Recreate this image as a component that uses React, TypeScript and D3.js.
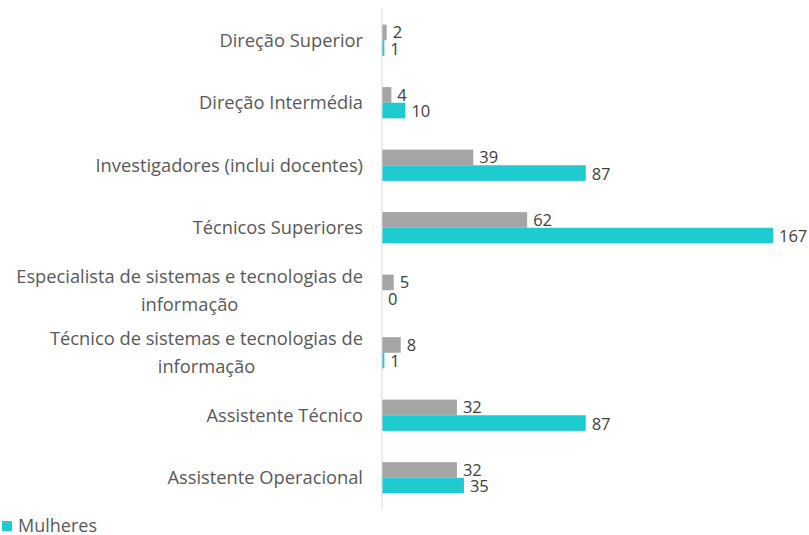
import React, {useEffect, useRef} from 'react';
import * as d3 from 'd3';

// categorias (linhas separadas por \n como no gráfico original)
const categories = [
    'Direção Superior',
    'Direção Intermédia',
    'Investigadores (inclui docentes)',
    'Técnicos Superiores',
    'Especialista de sistemas e tecnologias de\ninformação',
    'Técnico de sistemas e tecnologias de\ninformação',
    'Assistente Técnico',
    'Assistente Operacional',
];
const homens = [2, 4, 39, 62, 5, 8, 32, 32];
const mulheres = [1, 10, 87, 167, 0, 1, 87, 35];
const seriesNames = ['Homens', 'Mulheres'];
const colors = ['#A5A5A5', '#1ECBD1'];

const FONT = '"Open Sans", Lato, sans-serif';

export default function App() {
    const ref = useRef<SVGSVGElement>(null);
    const width = 809, height = 535;

    useEffect(() => {
        const svg = d3.select(ref.current);
        svg.selectAll('*').remove();

        const axisX = 382;
        const y = d3.scaleBand<string>()
            .domain(categories)
            .range([9, 509])
            .paddingInner(0.5)
            .paddingOuter(0.25);
        const sub = d3.scaleBand<string>()
            .domain(seriesNames)
            .range([0, y.bandwidth()]);
        const x = d3.scaleLinear().domain([0, 167]).range([axisX, 773]);

        const data = categories.map((c, i) => ({c, vals: [homens[i], mulheres[i]]}));

        const g = svg.append('g');
        data.forEach((d) => {
            d.vals.forEach((v, j) => {
                const yy = y(d.c)! + sub(seriesNames[j])!;
                g.append('rect')
                    .attr('x', x(0))
                    .attr('y', yy)
                    .attr('width', x(v) - x(0))
                    .attr('height', sub.bandwidth())
                    .attr('fill', colors[j]);
                g.append('text')
                    .attr('x', x(v) + 6)
                    .attr('y', yy + sub.bandwidth() / 2 + (j === 0 ? 0 : 1))
                    .attr('dy', '0.35em')
                    .attr('font-family', FONT)
                    .attr('font-size', 16.5)
                    .attr('fill', '#404040')
                    .text(v);
            });
        });

        // linha do eixo
        svg.append('line')
            .attr('x1', axisX).attr('x2', axisX)
            .attr('y1', 9).attr('y2', 509)
            .attr('stroke', '#D9D9D9')
            .attr('stroke-width', 1);

        // rótulos das categorias
        const lh = 28;
        categories.forEach((c) => {
            const lines = c.split('\n');
            const cy = y(c)! + y.bandwidth() / 2;
            const t = svg.append('text')
                .attr('font-family', FONT)
                .attr('font-size', 18.3)
                .attr('fill', '#595959');
            const tspans = lines.map((l, k) => t.append('tspan')
                .attr('y', cy + (k - (lines.length - 1) / 2) * lh)
                .attr('dy', '0.35em')
                .text(l));
            const widths = tspans.map((s) => (s.node() as SVGTSpanElement).getComputedTextLength());
            const maxW = d3.max(widths)!;
            const right = 363;
            tspans.forEach((s) => s.attr('x', right - maxW / 2).attr('text-anchor', 'middle'));
        });

        // legenda (só a parte visível)
        const lg = svg.append('g').attr('transform', 'translate(2,521)');
        lg.append('rect').attr('width', 10).attr('height', 10).attr('fill', colors[1]);
        lg.append('text')
            .attr('x', 16).attr('y', 5).attr('dy', '0.35em')
            .attr('font-family', FONT)
            .attr('font-size', 18)
            .attr('fill', '#595959')
            .text(seriesNames[1]);
    }, []);

    return (
        <div style={{position: 'absolute', left: 0, top: 0}}>
            <svg ref={ref} width={width} height={height} style={{display: 'block'}}/>
        </div>
    );
}
